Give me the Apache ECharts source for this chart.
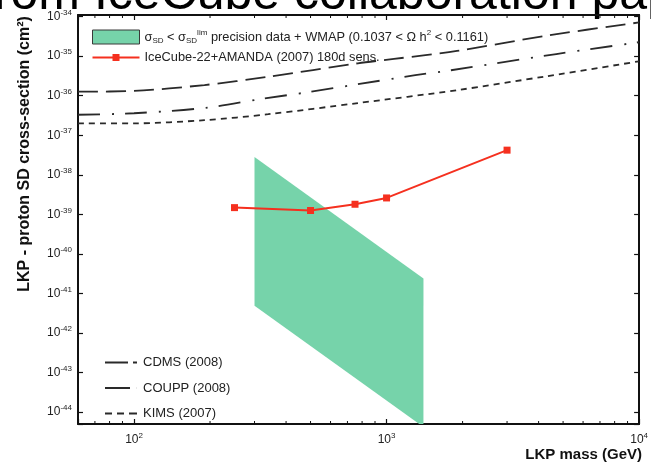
<!DOCTYPE html>
<html>
<head>
<meta charset="utf-8">
<title>LKP - proton SD cross-section</title>
<script src="https://cdn.jsdelivr.net/npm/echarts@6.0.0/dist/echarts.min.js"></script>
<style>
  html, body { margin: 0; padding: 0; background: #fff; }
  #chart { width: 651px; height: 464px; }
</style>
</head>
<body>
<div id="chart"></div>
<script>
// IceCube-22 + AMANDA (2007) 180 d sensitivity: LKP mass (GeV) vs cross-section (cm^2)
const iceMass  = [250, 500, 750, 1000, 3000];
const iceSigma = [1.48e-39, 1.25e-39, 1.8e-39, 2.6e-39, 4.2e-38];

// Corners of the band allowed by precision data + WMAP
const wmapMass  = [300, 300, 1400, 1400];
const wmapSigma = [2.8e-38, 4.9e-42, 4.2e-45, 2.4e-41];

// Direct-detection limits
const cdmsMass   = [60, 100, 190, 320, 490, 770, 1300, 1800, 4700, 10000];
const cdmsSigma  = [3.3e-37, 3.6e-37, 4.9e-37, 8.3e-37, 1.23e-36, 1.95e-36, 3.3e-36, 4.4e-36, 1.13e-35, 2.25e-35];
const couppMass  = [60, 100, 190, 340, 770, 1070, 1900, 4300, 10000];
const couppSigma = [1.26e-36, 1.32e-36, 1.86e-36, 3.0e-36, 6.6e-36, 8.5e-36, 1.35e-35, 3.3e-35, 7.1e-35];
const kimsMass   = [60, 100, 190, 340, 770, 1900, 4300, 10000];
const kimsSigma  = [2.0e-37, 2.0e-37, 2.4e-37, 3.4e-37, 6.5e-37, 1.38e-36, 3.1e-36, 7.4e-36];

// Decade exponents that carry a tick label
const xTickExp = [2, 3, 4];
const yTickExp = [-44, -43, -42, -41, -40, -39, -38, -37, -36, -35, -34];

// Axis extents (decades)
const xRange = [Math.log10(60), 4];
const yRange = [-44.3, -33.96];

const FONT = '"Liberation Sans", Arial, Helvetica, sans-serif';
const INK = '#222';
const GREEN = '#76d3aa';
const RED = '#f5301f';
const DARK = '#2a2a2a';

const WMAP_NAME = 'σSD < σSDlim precision data + WMAP (0.1037 < Ω h2 < 0.1161)';
const ICE_NAME = 'IceCube-22+AMANDA (2007) 180d sens.';

const toLog = (m, s) => m.map((v, i) => [Math.log10(v), Math.log10(s[i])]);

// Minor ticks of the log mass axis (2..9 x 10^n)
const minorX = [];
for (let d = 1; d <= 3; d++) {
  for (let k = 2; k <= 9; k++) {
    const v = Math.log10(k * Math.pow(10, d));
    if (v > xRange[0] && v < xRange[1]) minorX.push([v, yRange[0]]);
  }
}

const tickRich = {
  b: { fontSize: 12, fontFamily: FONT, color: INK, lineHeight: 16 },
  e: { fontSize: 8, fontFamily: FONT, color: INK, verticalAlign: 'top' }
};
const decadeLabel = (list) => (v) => {
  const n = Math.round(v);
  if (Math.abs(v - n) > 1e-6 || list.indexOf(n) < 0) return '';
  return '{b|10}{e|' + n + '}';
};

const frameLine = { show: true, onZero: false, lineStyle: { color: '#111', width: 2 } };
const innerTick = { show: true, inside: true, length: 5, lineStyle: { color: '#111', width: 1.2 } };

const wmapPts = toLog(wmapMass, wmapSigma);

const chart = echarts.init(document.getElementById('chart'), null, { renderer: 'canvas' });
chart.setOption({
  animation: false,
  backgroundColor: '#fff',
  grid: { left: 78, top: 15, right: 8, bottom: 40, containLabel: false },
  xAxis: [
    {
      type: 'value', min: xRange[0], max: xRange[1], splitNumber: 2, position: 'bottom',
      axisLine: frameLine, axisTick: innerTick, splitLine: { show: false },
      axisLabel: { margin: 8, formatter: decadeLabel(xTickExp), rich: tickRich }
    },
    {
      type: 'value', min: xRange[0], max: xRange[1], splitNumber: 2, position: 'top',
      axisLine: frameLine, axisTick: innerTick, splitLine: { show: false },
      axisLabel: { show: false }
    }
  ],
  yAxis: [
    {
      type: 'value', min: yRange[0], max: yRange[1], splitNumber: 10, position: 'left',
      axisLine: frameLine, axisTick: innerTick, splitLine: { show: false },
      axisLabel: { margin: 6, align: 'right', formatter: decadeLabel(yTickExp), rich: tickRich }
    },
    {
      type: 'value', min: yRange[0], max: yRange[1], splitNumber: 10, position: 'right',
      axisLine: frameLine, axisTick: innerTick, splitLine: { show: false },
      axisLabel: { show: false }
    }
  ],
  legend: [
    {
      left: 87, top: 24, orient: 'vertical', selectedMode: false,
      itemWidth: 47, itemHeight: 14, itemGap: 6,
      data: [
        { name: WMAP_NAME, icon: 'rect', itemStyle: { color: GREEN, borderColor: '#3a3a3a', borderWidth: 1 } },
        { name: ICE_NAME, icon: 'path://M0,2.5H20V0H27V2.5H47V4.5H27V7H20V4.5H0Z' }
      ],
      formatter: (name) => name === WMAP_NAME
        ? '{t|σ}{sb|SD}{t| < σ}{sb|SD}{sp|lim}{t| precision data + WMAP (0.1037 < Ω h}{sp|2}{t| < 0.1161)}'
        : '{t|' + name + '}',
      textStyle: {
        padding: [0, 0, 0, 0],
        rich: {
          t: { fontSize: 12.8, fontFamily: FONT, color: INK, lineHeight: 16 },
          sb: { fontSize: 8, fontFamily: FONT, color: INK, verticalAlign: 'bottom' },
          sp: { fontSize: 8, fontFamily: FONT, color: INK, verticalAlign: 'top' }
        }
      }
    },
    {
      left: 100, top: 351, orient: 'vertical', selectedMode: false,
      itemWidth: 32, itemHeight: 10, itemGap: 12.5,
      data: [
        { name: 'CDMS (2008)', icon: 'path://M0,0h23v2h-23zM28,0h4v2h-4z' },
        { name: 'COUPP (2008)', icon: 'path://M0,0h25v2h-25zM31.9,0h0.1v2h-0.1z' },
        { name: 'KIMS (2007)', icon: 'path://M0,0h7v2h-7zM12,0h7v2h-7zM24,0h8v2h-8z' }
      ],
      textStyle: { fontSize: 13, fontFamily: FONT, color: INK, padding: [0, 0, 0, 1] }
    }
  ],
  series: [
    {
      type: 'custom', name: WMAP_NAME, clip: true, z: 1,
      itemStyle: { color: GREEN },
      data: wmapPts,
      renderItem: (params, api) => {
        if (params.dataIndex !== 0) return null;
        return {
          type: 'polygon',
          shape: { points: wmapPts.map((p) => api.coord(p)) },
          style: { fill: GREEN }
        };
      }
    },
    {
      type: 'line', name: 'COUPP (2008)', data: toLog(couppMass, couppSigma),
      symbol: 'none', smooth: 0.3, z: 2, color: DARK,
      lineStyle: { color: DARK, width: 1.8, type: [20, 8] }
    },
    {
      type: 'line', name: 'CDMS (2008)', data: toLog(cdmsMass, cdmsSigma),
      symbol: 'none', smooth: 0.3, z: 2, color: DARK,
      lineStyle: { color: DARK, width: 1.8, type: [22, 12, 2, 11] }
    },
    {
      type: 'line', name: 'KIMS (2007)', data: toLog(kimsMass, kimsSigma),
      symbol: 'none', smooth: 0.3, z: 2, color: DARK,
      lineStyle: { color: DARK, width: 1.8, type: [6, 5] }
    },
    {
      type: 'line', name: ICE_NAME, data: toLog(iceMass, iceSigma),
      symbol: 'rect', symbolSize: 7, z: 3, color: RED,
      itemStyle: { color: RED },
      lineStyle: { color: RED, width: 2 }
    },
    {
      // short inward minor ticks on the bottom and top frame
      type: 'custom', name: 'minor ticks', silent: true, clip: false, z: 4,
      data: minorX,
      renderItem: (params, api) => {
        const v = api.value(0);
        const b = api.coord([v, yRange[0]]);
        const t = api.coord([v, yRange[1]]);
        return {
          type: 'group',
          children: [
            { type: 'line', shape: { x1: b[0], y1: b[1], x2: b[0], y2: b[1] - 3 }, style: { stroke: '#111', lineWidth: 1 } },
            { type: 'line', shape: { x1: t[0], y1: t[1], x2: t[0], y2: t[1] + 3 }, style: { stroke: '#111', lineWidth: 1 } }
          ]
        };
      }
    }
  ],
  graphic: [
    {
      type: 'text', x: -20, y: -5, silent: true,
      style: { text: 'from IceCube collaboration paper', font: '50px ' + FONT, fill: '#000', verticalAlign: 'middle' }
    },
    {
      type: 'text', x: 25, y: 154, rotation: Math.PI / 2, silent: true,
      style: { text: 'LKP - proton SD cross-section (cm²)', font: 'bold 16px ' + FONT, fill: '#111', align: 'center', verticalAlign: 'middle' }
    },
    {
      type: 'text', x: 642, y: 455, silent: true,
      style: { text: 'LKP mass (GeV)', font: 'bold 15px ' + FONT, fill: '#111', align: 'right', verticalAlign: 'middle' }
    }
  ]
});
</script>
</body>
</html>
